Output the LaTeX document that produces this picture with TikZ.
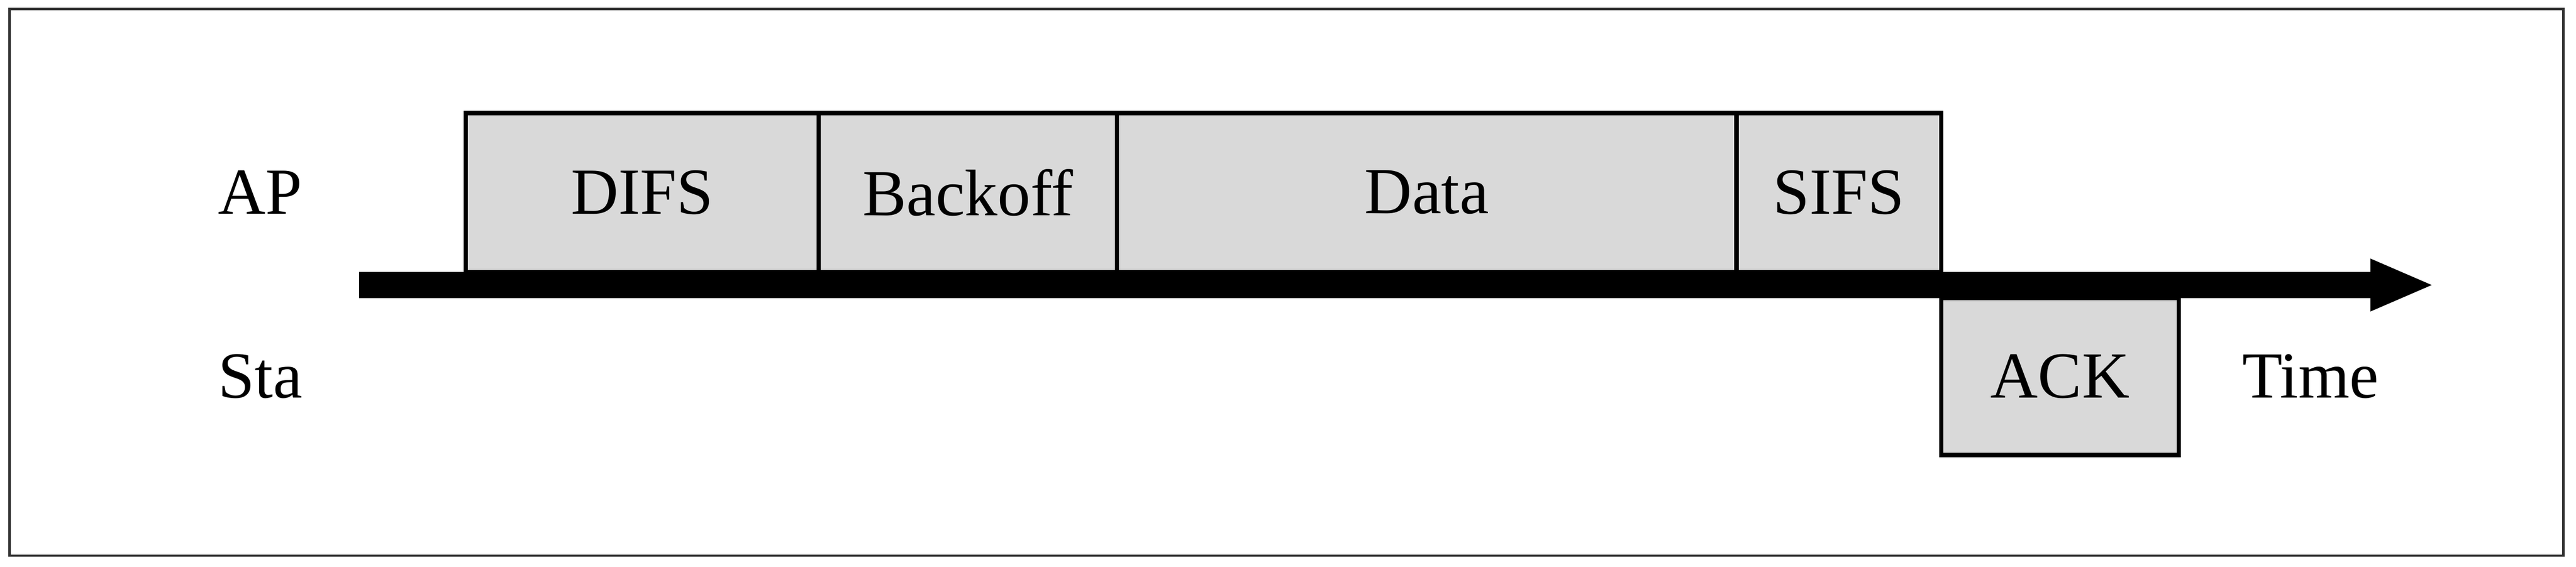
\documentclass[tikz,border=0pt]{standalone}
\usepackage{fontspec}
\setmainfont{Liberation Serif}
\usepackage{tikz}
\usepackage{xcolor}
\usetikzlibrary {arrows.meta,positioning,calc}
\definecolor{SlotBackground}{HTML}{D9D9D9}
\definecolor{FrameColor}{HTML}{333333}
\tikzstyle{SlotNode} =[draw,fill=SlotBackground,line width=3pt,inner sep=0pt,outer sep=0pt,minimum height=3.99cm,font=\fontsize{47}{56}\selectfont]
\tikzstyle{LabelNode} =[inner sep=0pt,outer sep=0pt,font=\fontsize{47}{56}\selectfont]
\tikzstyle{TimeAxis} =[line width=0.66cm,-{Triangle[length=1.61cm,width=1.19cm]}]

\begin{document}
\begin{tikzpicture}[node distance=0cm]
    \useasboundingbox (0,0) rectangle (64.68,14.24);
    \draw[line width=0.06cm,FrameColor] (0.24,0.28) rectangle (64.36,14.01);

    \coordinate (Axis-Start) at (9.01,7.08);
    \coordinate (Axis-End) at (61.13,7.08);
    \draw[TimeAxis] (Axis-Start) -- (Axis-End);

    \node[SlotNode,minimum width=8.87cm,anchor=south west](DIFS-Slot) at (11.69,7.41){DIFS};
    \node[SlotNode,minimum width=7.49cm,right= of DIFS-Slot](Backoff-Slot){Backoff};
    \node[SlotNode,minimum width=15.55cm,right= of Backoff-Slot](Data-Slot){Data};
    \node[SlotNode,minimum width=5.14cm,right= of Data-Slot](SIFS-Slot){SIFS};
    \node[SlotNode,minimum width=5.97cm,minimum height=3.94cm,below right=0.66cm and 0cm of SIFS-Slot.south east](ACK-Slot){ACK};

    \node[LabelNode,left=4.1cm of DIFS-Slot](AP-Label){AP};
    \node[LabelNode](Sta-Label) at (AP-Label |- ACK-Slot){Sta};
    \node[LabelNode,right=1.59cm of ACK-Slot](Time-Label){Time};
\end{tikzpicture}
\end{document}
